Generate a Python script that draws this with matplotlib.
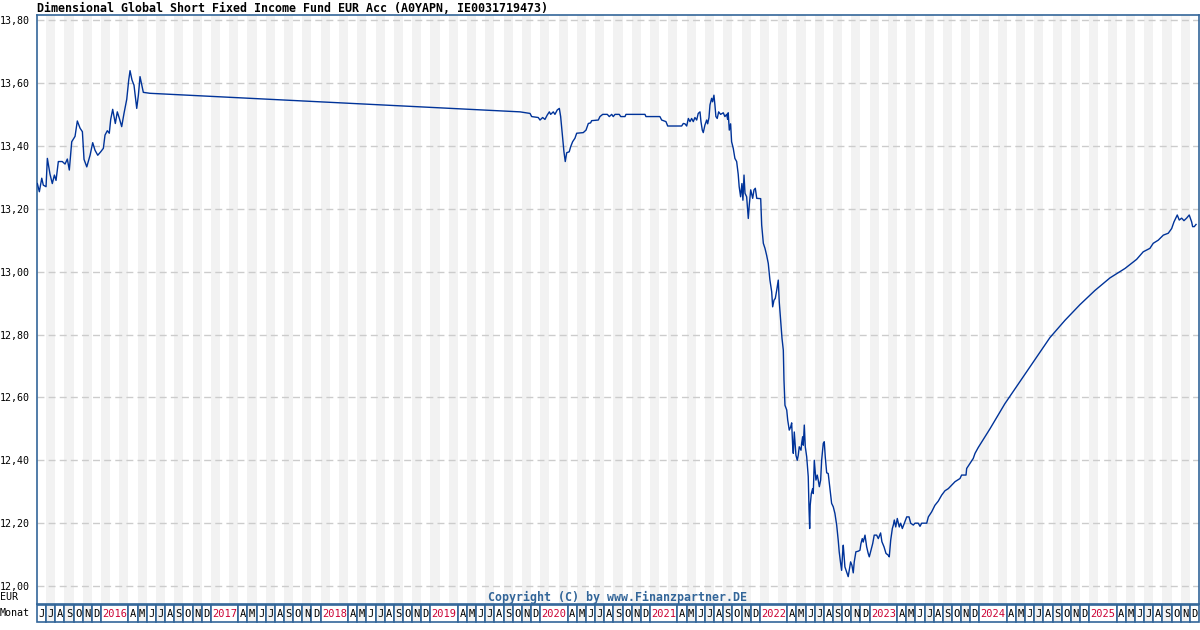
import matplotlib
matplotlib.use("Agg")
import matplotlib.pyplot as plt

# === Texte ===
titel = "Dimensional Global Short Fixed Income Fund EUR Acc (A0YAPN, IE0031719473)"
copyright_text = "Copyright (C) by www.Finanzpartner.DE"

# === Kursdaten (Zeit in Dezimaljahren, Kurs in EUR) ===
zeit_2015 = [2015.420, 2015.438, 2015.460, 2015.474, 2015.499, 2015.511, 2015.535, 2015.556,
             2015.575, 2015.590, 2015.611, 2015.647, 2015.672, 2015.693, 2015.711, 2015.733,
             2015.763, 2015.784, 2015.809, 2015.830, 2015.845, 2015.870, 2015.900, 2015.924,
             2015.945, 2015.970, 2015.997, 2016.021, 2016.036, 2016.057, 2016.075, 2016.088,
             2016.106, 2016.130, 2016.148, 2016.167, 2016.188, 2016.209, 2016.234, 2016.252,
             2016.264, 2016.282, 2016.300, 2016.319, 2016.325, 2016.340, 2016.355, 2016.371,
             2016.385, 2016.446]
kurs_2015 = [13.280, 13.254, 13.297, 13.275, 13.270, 13.360, 13.310, 13.280,
             13.307, 13.290, 13.350, 13.350, 13.342, 13.358, 13.323, 13.413,
             13.430, 13.479, 13.456, 13.445, 13.357, 13.333, 13.370, 13.410,
             13.386, 13.370, 13.381, 13.392, 13.434, 13.448, 13.440, 13.484,
             13.516, 13.471, 13.508, 13.487, 13.461, 13.503, 13.548, 13.609,
             13.639, 13.609, 13.593, 13.535, 13.519, 13.561, 13.620, 13.593,
             13.570, 13.567]

zeit_2019 = [2019.816, 2019.907, 2019.922, 2019.982, 2019.998, 2020.022, 2020.043, 2020.064,
             2020.083, 2020.095, 2020.119, 2020.134, 2020.155, 2020.174, 2020.186, 2020.195,
             2020.205, 2020.216, 2020.228, 2020.241, 2020.264, 2020.277, 2020.295, 2020.316,
             2020.332, 2020.392, 2020.417, 2020.438, 2020.459, 2020.468, 2020.529, 2020.544,
             2020.569, 2020.611, 2020.629, 2020.651, 2020.665, 2020.681, 2020.720, 2020.733,
             2020.772, 2020.781, 2020.954, 2020.963, 2021.090, 2021.106, 2021.145, 2021.161,
             2021.288, 2021.303, 2021.318, 2021.334, 2021.349, 2021.364, 2021.379, 2021.394,
             2021.409, 2021.425, 2021.439, 2021.455, 2021.464, 2021.476, 2021.485, 2021.500,
             2021.516, 2021.525, 2021.537, 2021.546, 2021.561, 2021.570, 2021.582, 2021.591,
             2021.600, 2021.612, 2021.625, 2021.643, 2021.667, 2021.682, 2021.698, 2021.707,
             2021.712, 2021.722, 2021.734, 2021.743, 2021.758, 2021.773, 2021.789, 2021.803,
             2021.812, 2021.825, 2021.837, 2021.846, 2021.856, 2021.865, 2021.880, 2021.895,
             2021.904, 2021.917, 2021.935, 2021.947, 2021.959, 2021.972, 2022.008]
kurs_2019 = [13.508, 13.503, 13.493, 13.490, 13.482, 13.490, 13.484, 13.498,
             13.508, 13.500, 13.508, 13.500, 13.514, 13.519, 13.493, 13.460,
             13.424, 13.381, 13.350, 13.378, 13.381, 13.397, 13.413, 13.424,
             13.440, 13.442, 13.450, 13.471, 13.473, 13.480, 13.482, 13.493,
             13.500, 13.500, 13.493, 13.500, 13.493, 13.500, 13.500, 13.493,
             13.493, 13.500, 13.500, 13.493, 13.493, 13.482, 13.477, 13.463,
             13.463, 13.471, 13.470, 13.463, 13.487, 13.477, 13.487, 13.477,
             13.490, 13.482, 13.503, 13.508, 13.477, 13.450, 13.442, 13.466,
             13.482, 13.470, 13.490, 13.530, 13.551, 13.540, 13.561, 13.530,
             13.493, 13.487, 13.508, 13.500, 13.505, 13.493, 13.500, 13.484,
             13.505, 13.450, 13.470, 13.413, 13.392, 13.360, 13.350, 13.310,
             13.270, 13.238, 13.280, 13.227, 13.307, 13.249, 13.238, 13.169,
             13.212, 13.260, 13.233, 13.260, 13.265, 13.233, 13.232]

zeit_2022 = [2022.017, 2022.032, 2022.047, 2022.062, 2022.077, 2022.092, 2022.108, 2022.117,
             2022.129, 2022.141, 2022.154, 2022.168, 2022.177, 2022.190, 2022.202, 2022.214,
             2022.220, 2022.229, 2022.245, 2022.254, 2022.268, 2022.281, 2022.290, 2022.299,
             2022.305, 2022.314, 2022.329, 2022.341, 2022.350, 2022.359, 2022.375, 2022.381,
             2022.390, 2022.396, 2022.405, 2022.414, 2022.427, 2022.441, 2022.448, 2022.454,
             2022.459, 2022.469, 2022.481, 2022.487, 2022.496, 2022.502, 2022.511, 2022.523,
             2022.532, 2022.542, 2022.554, 2022.563, 2022.578, 2022.587, 2022.596, 2022.609,
             2022.623, 2022.639, 2022.654, 2022.669, 2022.684, 2022.700, 2022.714, 2022.723,
             2022.736, 2022.745, 2022.754, 2022.760, 2022.775, 2022.791, 2022.805, 2022.814,
             2022.827, 2022.839, 2022.851, 2022.860, 2022.875, 2022.897, 2022.912, 2022.921,
             2022.933, 2022.942, 2022.958, 2022.973, 2022.987, 2022.997]
kurs_2022 = [13.148, 13.090, 13.074, 13.052, 13.026, 12.973, 12.936, 12.888,
             12.909, 12.915, 12.941, 12.973, 12.904, 12.846, 12.788, 12.750,
             12.655, 12.575, 12.560, 12.528, 12.496, 12.506, 12.519, 12.448,
             12.422, 12.490, 12.416, 12.400, 12.416, 12.443, 12.432, 12.454,
             12.475, 12.448, 12.512, 12.443, 12.411, 12.348, 12.247, 12.183,
             12.257, 12.294, 12.310, 12.294, 12.400, 12.374, 12.337, 12.353,
             12.337, 12.316, 12.337, 12.400, 12.454, 12.459, 12.411, 12.360,
             12.358, 12.310, 12.263, 12.252, 12.231, 12.194, 12.146, 12.109,
             12.072, 12.050, 12.104, 12.130, 12.061, 12.045, 12.030, 12.050,
             12.077, 12.066, 12.042, 12.077, 12.109, 12.111, 12.114, 12.135,
             12.151, 12.140, 12.162, 12.125, 12.104, 12.093]

zeit_2023 = [2023.012, 2023.028, 2023.042, 2023.064, 2023.079, 2023.100, 2023.112, 2023.131,
             2023.149, 2023.170, 2023.179, 2023.192, 2023.207, 2023.216, 2023.225, 2023.238,
             2023.252, 2023.270, 2023.283, 2023.298, 2023.316, 2023.338, 2023.359, 2023.374,
             2023.398, 2023.413, 2023.443, 2023.459, 2023.474, 2023.520, 2023.535, 2023.565,
             2023.595, 2023.625, 2023.656, 2023.686, 2023.717, 2023.748, 2023.778, 2023.823,
             2023.838, 2023.878, 2023.884, 2023.914, 2023.944, 2023.960, 2023.990, 2024.096,
             2024.232, 2024.369, 2024.506, 2024.642, 2024.779, 2024.916, 2025.052, 2025.189,
             2025.326, 2025.432, 2025.492,
             2025.553, 2025.583, 2025.629, 2025.675, 2025.720, 2025.751, 2025.772, 2025.802,
             2025.820, 2025.842, 2025.863, 2025.887, 2025.911, 2025.933, 2025.942, 2025.957,
             2025.973]
kurs_2023 = [12.114, 12.135, 12.162, 12.162, 12.151, 12.169, 12.141, 12.125,
             12.104, 12.098, 12.093, 12.146, 12.183, 12.194, 12.210, 12.188,
             12.215, 12.188, 12.200, 12.183, 12.200, 12.220, 12.220, 12.200,
             12.194, 12.200, 12.200, 12.190, 12.200, 12.200, 12.220, 12.236,
             12.257, 12.270, 12.289, 12.303, 12.310, 12.321, 12.332, 12.342,
             12.353, 12.353, 12.374, 12.390, 12.406, 12.422, 12.441, 12.500,
             12.580, 12.650, 12.720, 12.790, 12.845, 12.895, 12.940, 12.980,
             13.010, 13.039, 13.063,
             13.074, 13.090, 13.100, 13.116, 13.122, 13.137, 13.158, 13.180,
             13.164, 13.170, 13.162, 13.170, 13.180, 13.158, 13.143, 13.143,
             13.150]

zeit = zeit_2015 + zeit_2019 + zeit_2022 + zeit_2023
kurs = kurs_2015 + kurs_2019 + kurs_2022 + kurs_2023

# === Achsen / Beschriftung ===
y_ticks = [12.0, 12.2, 12.4, 12.6, 12.8, 13.0, 13.2, 13.4, 13.6, 13.8]
monate = ["J", "F", "M", "A", "M", "J", "J", "A", "S", "O", "N", "D"]
start_jahr, start_monat = 2015, 6     # Juni 2015
anzahl_monate = 127                   # bis Dezember 2025

rahmen = "#336699"
linie = "#003399"
streifen = "#f2f2f2"
font = "DejaVu Sans Mono"
fs = 8.4     # Titel / Copyright
fs_klein = 7.2

W, H = 1200, 630
t0 = start_jahr + (start_monat - 1) / 12
t1 = t0 + anzahl_monate / 12

fig = plt.figure(figsize=(12, 6.3), dpi=100)
fig.patch.set_facecolor("white")

# === Hauptdiagramm ===
ax = fig.add_axes([37 / W, 1 - 604 / H, 1162 / W, 589 / H])
ax.set_xlim(t0, t1)
ax.set_ylim(11.943, 13.816)

for i in range(anzahl_monate):
    if i % 2 == 1:
        ax.axvspan(t0 + i / 12, t0 + (i + 1) / 12, color=streifen, lw=0, zorder=0)

for y in y_ticks:
    ax.axhline(y, color="#cccccc", lw=1.0, linestyle=(0, (5, 3)), zorder=1)

ax.plot(zeit, kurs, color=linie, lw=1.0, zorder=3)

ax.set_xticks([])
ax.set_yticks(y_ticks)
ax.set_yticklabels([f"{v:.2f}".replace(".", ",") for v in y_ticks],
                   fontfamily=font, fontsize=fs_klein)
ax.tick_params(axis="y", length=0, pad=5)
for s in ax.spines.values():
    s.set_color(rahmen)
    s.set_linewidth(1.2)

ax.text(0.5, 0.0, copyright_text, transform=ax.transAxes, ha="center", va="bottom",
        fontfamily=font, fontsize=fs, fontweight="bold", color=rahmen, zorder=4)

# === Monatsleiste ===
ax2 = fig.add_axes([37 / W, 1 - 622 / H, 1162 / W, 17 / H])
ax2.set_xlim(t0, t1)
ax2.set_ylim(0, 1)
ax2.axis("off")

i = 0
while i < anzahl_monate:
    monat = (start_monat - 1 + i) % 12
    jahr = start_jahr + (start_monat - 1 + i) // 12
    links = t0 + i / 12
    if monat == 0:
        breite = 3
        label, farbe, fc = str(jahr), "#cc0033", "white"
    else:
        breite = 1
        label, farbe = monate[monat], "black"
        fc = streifen if i % 2 == 1 else "white"
    ax2.bar(links, 1, width=breite / 12, align="edge", facecolor=fc,
            edgecolor=rahmen, linewidth=1.2, clip_on=False)
    ax2.text(links + breite / 24, 0.45, label, ha="center", va="center",
             fontfamily=font, fontsize=fs_klein + 0.3, color=farbe)
    i += breite

# === Texte aussen ===
fig.text(37 / W, 1 - 8 / H, titel, ha="left", va="center",
         fontfamily=font, fontsize=fs, fontweight="bold")
fig.text(0, 1 - 597 / H, "EUR", ha="left", va="center", fontfamily=font, fontsize=fs_klein)
fig.text(0, 1 - 613 / H, "Monat", ha="left", va="center", fontfamily=font, fontsize=fs_klein)

fig.savefig("out.png", dpi=100)
